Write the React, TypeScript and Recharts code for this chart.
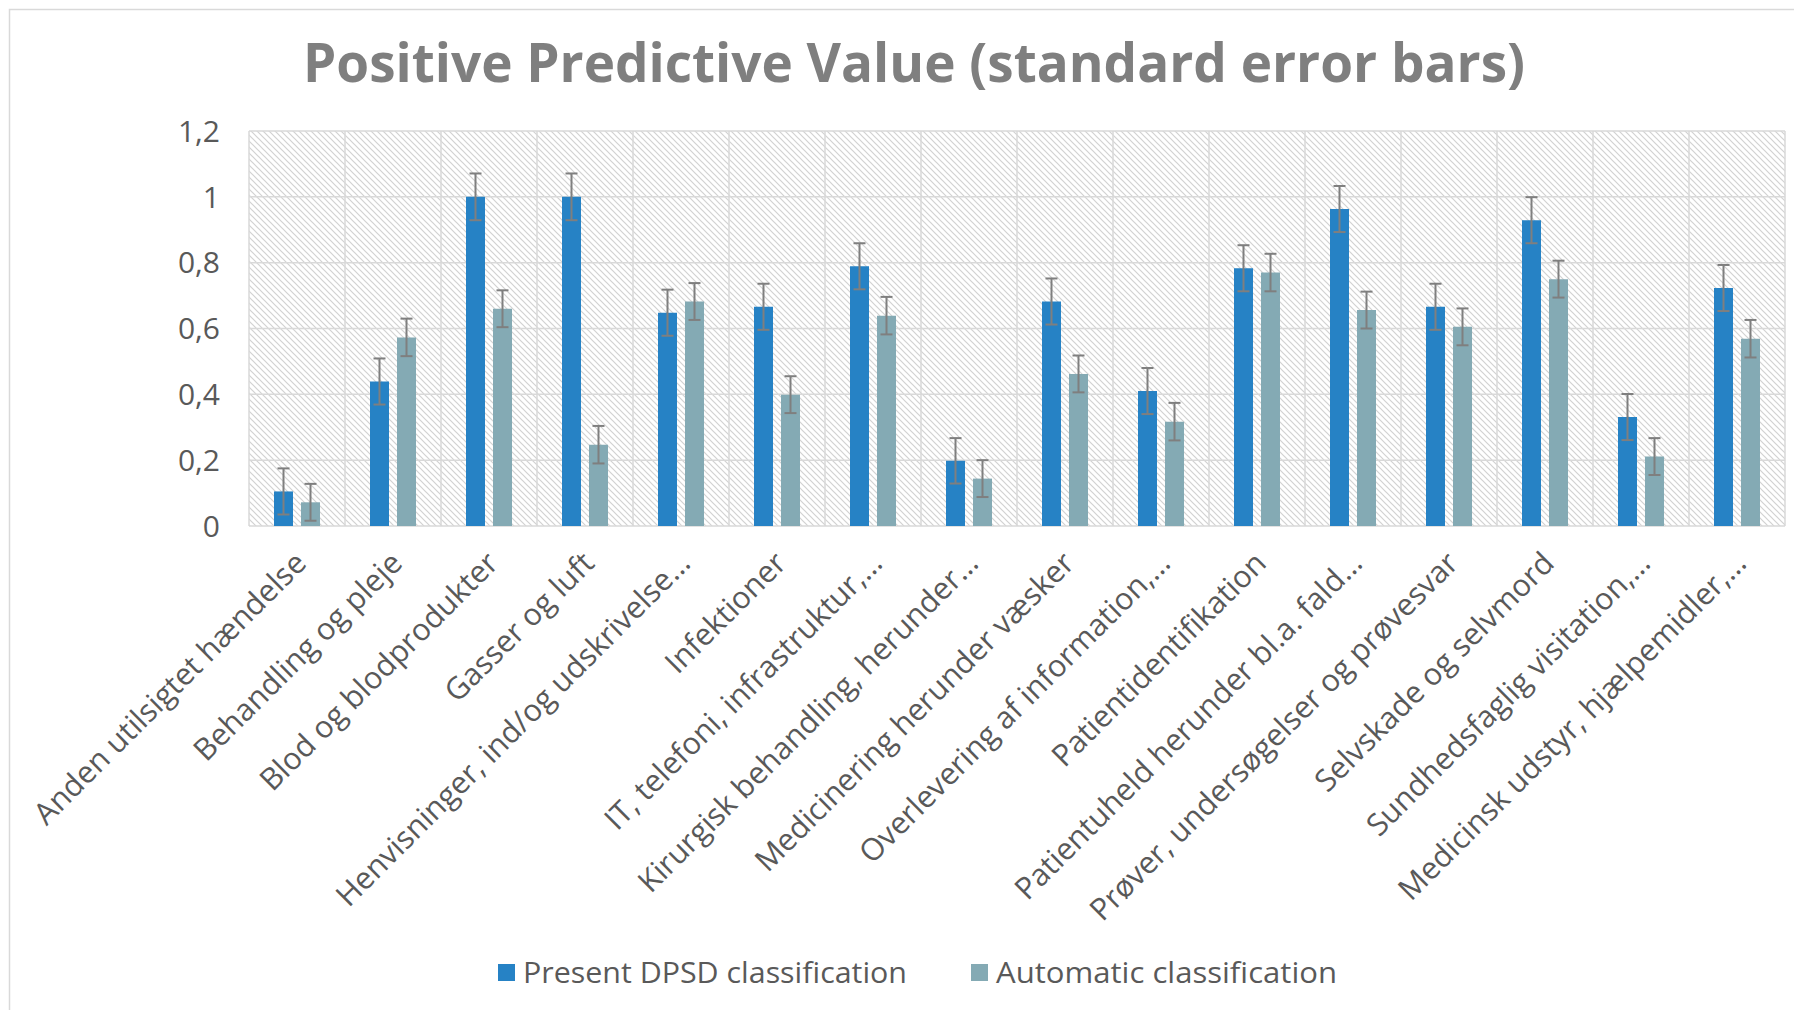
import React from 'react';
import { BarChart, Bar, XAxis, YAxis, CartesianGrid, ErrorBar } from 'recharts';

const categories = [
  'Anden utilsigtet hændelse',
  'Behandling og pleje',
  'Blod og blodprodukter',
  'Gasser og luft',
  'Henvisninger, ind/og udskrivelse…',
  'Infektioner',
  'IT, telefoni, infrastruktur,…',
  'Kirurgisk behandling, herunder…',
  'Medicinering herunder væsker',
  'Overlevering af information,…',
  'Patientidentifikation',
  'Patientuheld herunder bl.a. fald…',
  'Prøver, undersøgelser og prøvesvar',
  'Selvskade og selvmord',
  'Sundhedsfaglig visitation,…',
  'Medicinsk udstyr, hjælpemidler,…',
];

const presentDPSD = [0.105, 0.439, 1.0, 1.0, 0.648, 0.666, 0.789, 0.198, 0.682, 0.41, 0.783, 0.963, 0.666, 0.929, 0.331, 0.723];
const automaticCls = [0.072, 0.573, 0.66, 0.247, 0.682, 0.399, 0.639, 0.144, 0.462, 0.317, 0.77, 0.656, 0.605, 0.75, 0.211, 0.569];
const presentSE = [0.07, 0.07, 0.071, 0.071, 0.07, 0.07, 0.07, 0.069, 0.07, 0.07, 0.07, 0.07, 0.07, 0.07, 0.07, 0.07];
const automaticSE = [0.056, 0.057, 0.056, 0.057, 0.056, 0.056, 0.057, 0.056, 0.056, 0.057, 0.057, 0.056, 0.056, 0.056, 0.056, 0.057];
const yTicks = [0, 0.2, 0.4, 0.6, 0.8, 1, 1.2];
const seriesNames = ['Present DPSD classification', 'Automatic classification'];
const seriesColors = ['#2682C5', '#84AAB4'];
const title = 'Positive Predictive Value (standard error bars)';

const data = categories.map((c, i) => ({
  category: c,
  present: presentDPSD[i],
  automatic: automaticCls[i],
  presentErr: presentSE[i],
  automaticErr: automaticSE[i],
}));

const FONT = '"Open Sans", sans-serif';
const TEXT = '#595959';

const XTick = (props: any) => {
  const { x, y, payload } = props;
  return (
    <g transform={`translate(${x + 11},${y + 39}) rotate(-45)`}>
      <text x={0} y={0} textAnchor="end" fontSize={30.5} fill={TEXT} fontFamily={FONT}>
        {payload.value}
      </text>
    </g>
  );
};

const YTick = (props: any) => {
  const { x, y, payload } = props;
  return (
    <text x={x} y={y} dy="0.36em" textAnchor="end" fontSize={30} fill={TEXT} fontFamily={FONT}>
      {String(payload.value).replace('.', ',')}
    </text>
  );
};

const vGen = (props: any) => {
  const off = props && props.offset ? props.offset : { left: 249, width: 1536 };
  const n = categories.length;
  return Array.from({ length: n + 1 }, (_, i) => off.left + (i * off.width) / n);
};

export default function App() {
  return (
    <div style={{ position: 'absolute', left: 0, top: 0, width: 1794, height: 1010, background: '#fff', overflow: 'hidden' }}>
      <svg width={1794} height={1010} style={{ position: 'absolute', left: 0, top: 0 }}>
        <defs>
          <pattern id="hatch" width="6" height="6" patternUnits="userSpaceOnUse">
            <rect width="6" height="6" fill="#ffffff" />
            <path d="M0,0 L6,6 M-1,5 L1,7 M5,-1 L7,1" stroke="#D2D2D2" strokeWidth="1.2" />
          </pattern>
        </defs>
        <rect x={9.5} y={9.5} width={1800} height={1020} fill="none" stroke="#D9D9D9" strokeWidth={1.5} />
        <text x={914} y={82} textAnchor="middle" fontSize={54} fontWeight="bold" fill="#7F7F7F" fontFamily={FONT}
          textLength={1222} lengthAdjust="spacingAndGlyphs">
          {title}
        </text>
        <rect x={498} y={964} width={17} height={17} fill={seriesColors[0]} />
        <text x={523} y={983} fontSize={30} fill={TEXT} fontFamily={FONT} textLength={384} lengthAdjust="spacingAndGlyphs">{seriesNames[0]}</text>
        <rect x={971} y={964} width={17} height={17} fill={seriesColors[1]} />
        <text x={996} y={983} fontSize={30} fill={TEXT} fontFamily={FONT} textLength={341} lengthAdjust="spacingAndGlyphs">{seriesNames[1]}</text>
      </svg>
      <div style={{ position: 'absolute', left: 0, top: 0 }}>
        <BarChart
          width={1794}
          height={1010}
          data={data}
          margin={{ top: 131, right: 9, bottom: 0, left: 0 }}
          barSize={19}
          barGap={8}
        >
          <CartesianGrid
            stroke="#D9D9D9"
            strokeWidth={1.5}
            fill="url(#hatch)"
            fillOpacity={1}
            verticalCoordinatesGenerator={vGen}
          />
          <XAxis
            dataKey="category"
            interval={0}
            height={484}
            axisLine={false}
            tickLine={false}
            tickSize={0}
            tickMargin={0}
            tick={<XTick />}
          />
          <YAxis
            domain={[0, 1.2]}
            ticks={yTicks}
            width={249}
            axisLine={false}
            tickLine={false}
            tickSize={0}
            tickMargin={29}
            tick={<YTick />}
          />
          <Bar dataKey="present" name={seriesNames[0]} fill={seriesColors[0]} isAnimationActive={false}>
            <ErrorBar dataKey="presentErr" direction="y" width={6} strokeWidth={2} stroke="#7F7F7F" isAnimationActive={false} />
          </Bar>
          <Bar dataKey="automatic" name={seriesNames[1]} fill={seriesColors[1]} isAnimationActive={false}>
            <ErrorBar dataKey="automaticErr" direction="y" width={6} strokeWidth={2} stroke="#7F7F7F" isAnimationActive={false} />
          </Bar>
        </BarChart>
      </div>
    </div>
  );
}
